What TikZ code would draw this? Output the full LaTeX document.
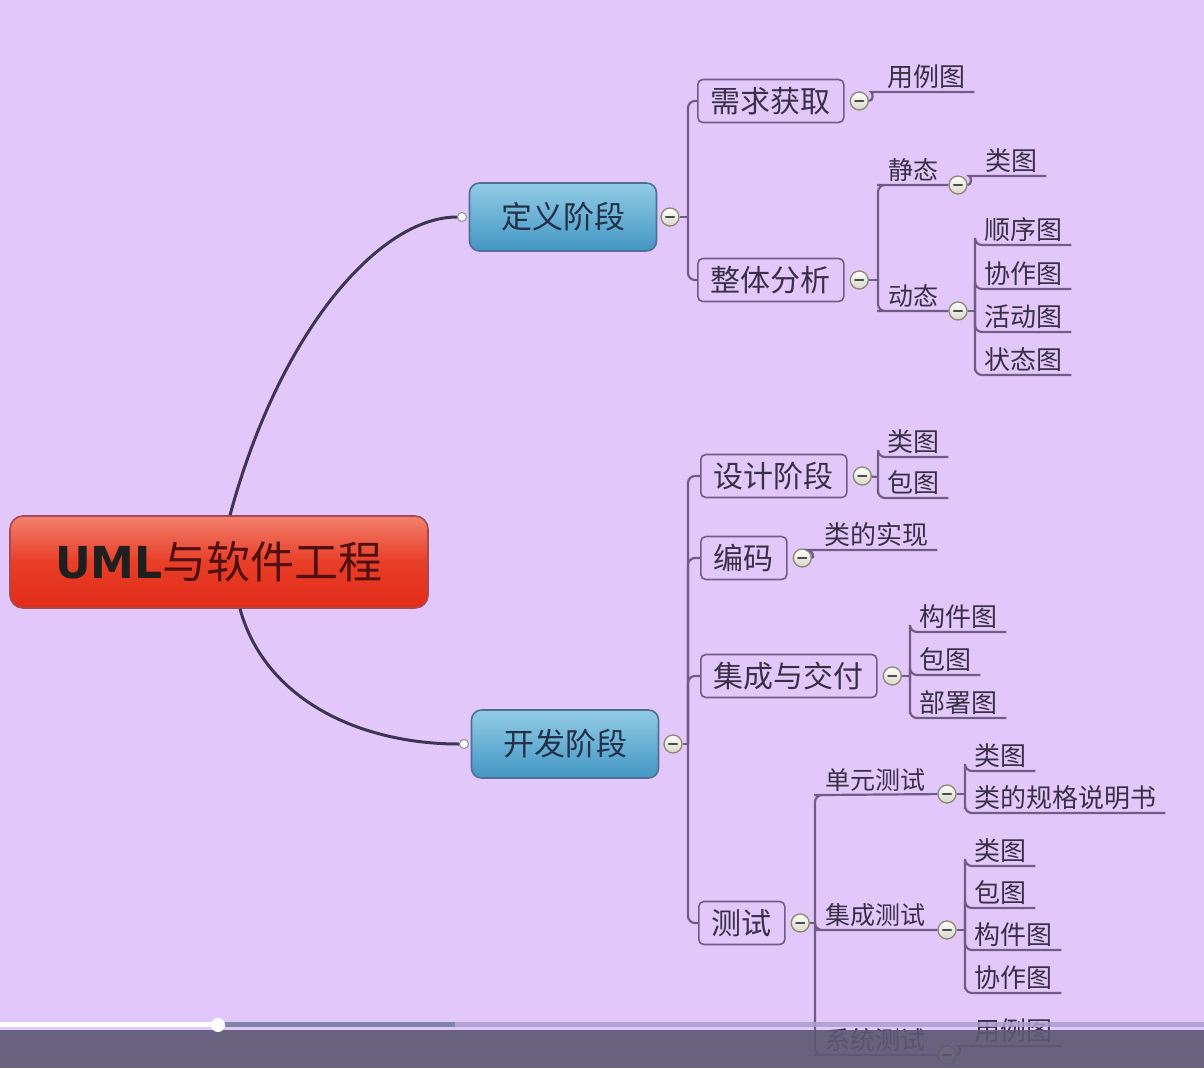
\documentclass[tikz,border=0pt]{standalone}
\usepackage{fontspec}
\setmainfont{Noto Sans CJK SC}
\newfontfamily\umlfont{DejaVu Sans}
\usetikzlibrary{positioning}
\definecolor{bg}{RGB}{226,200,250}
\definecolor{lnk}{RGB}{112,92,134}
\definecolor{txt}{RGB}{58,48,70}
\definecolor{trunkc}{RGB}{62,52,84}
\definecolor{phaseline}{RGB}{84,108,150}
\definecolor{phasetxt}{RGB}{34,48,72}
\definecolor{rootline}{RGB}{168,72,84}
\definecolor{roottxt}{RGB}{80,16,16}
\definecolor{minusline}{RGB}{140,136,110}
\definecolor{barc}{RGB}{92,88,114}
\definecolor{playc}{RGB}{122,136,168}
\definecolor{restc}{RGB}{172,158,208}

\begin{document}
\begin{tikzpicture}[x=1pt, y=-1pt,
    link/.style={draw=lnk, line width=2.2, rounded corners=7},
    trunk/.style={draw=trunkc, line width=3},
    root/.style={draw=rootline, line width=1.6, rounded corners=13, top color={rgb,255:red,242;green,128;blue,108}, bottom color={rgb,255:red,226;green,44;blue,24}, middle color={rgb,255:red,232;green,62;blue,40}, minimum width=418, minimum height=92, text=roottxt, font=\fontsize{44}{48}\selectfont},
    phase/.style={draw=phaseline, line width=1.6, rounded corners=10, top color={rgb,255:red,146;green,204;blue,228}, bottom color={rgb,255:red,66;green,150;blue,196}, minimum width=187, minimum height=68, text=phasetxt, font=\fontsize{31}{34}\selectfont},
    stage/.style={draw=lnk, line width=1.6, rounded corners=5, fill=bg, text=txt, inner xsep=13, minimum height=43, anchor=west, font=\fontsize{30}{34}\selectfont},
    sub/.style={anchor=south west, inner xsep=4, inner ysep=3, text=txt, font=\fontsize{25}{28}\selectfont},
    leaf/.style={anchor=south west, inner xsep=9, inner ysep=3, text=txt, font=\fontsize{26}{28}\selectfont},
    minus/.style={circle, draw=minusline, line width=1.3, minimum size=18, inner sep=0, top color=white, bottom color={rgb,255:red,214;green,214;blue,200},
        path picture={\draw[line width=2.4, line cap=round, draw=black!70] ([xshift=-4]path picture bounding box.center) -- ([xshift=4]path picture bounding box.center);}},
    dot/.style={circle, draw=black!45, line width=1, fill=white, minimum size=9, inner sep=0}]

    \useasboundingbox (0,0) rectangle (1204,1068);
    \fill[bg] (0,0) rectangle (1204,1068);

    \node[root] (uml) at (219,562) {{\umlfont\bfseries\color{black!88}UML}与软件工程};

    \node[phase] (dy) at (563,217) {定义阶段};
    \node[phase] (kf) at (565,744) {开发阶段};
    \node[dot] (dyIn) at (462,217) {};
    \node[dot] (kfIn) at (464,744) {};
    \node[minus] (dyM) at (670,217) {};
    \node[minus] (kfM) at (673,744) {};
    \draw[trunk] ([xshift=11]uml.north) .. controls (280,330) and (380,217) .. (dyIn);
    \draw[trunk] ([xshift=21]uml.south) .. controls (265,700) and (360,744) .. (kfIn);

    \coordinate (jA) at (688,217);
    \coordinate (jK) at (688,744);
    \draw[link] (dyM) -- (jA);
    \draw[link] (kfM) -- (jK);

    \node[stage] (xq) at (697,101) {需求获取};
    \node[stage] (zt) at (697,280) {整体分析};
    \node[minus, right=5pt of xq] (xqM) {};
    \node[minus, right=5pt of zt] (ztM) {};
    \draw[link] (jA) |- (xq.west);
    \draw[link] (jA) |- (zt.west);

    \node[leaf] (ylA) at (878,92) {用例图};
    \draw[link] (xqM) to[out=0, in=180] (ylA.south west) -- (ylA.south east);

    \coordinate (jB) at (878,280);
    \draw[link] (ztM) -- (jB);
    \node[sub] (jt) at (884,185) {静态};
    \node[sub] (dt) at (884,311) {动态};
    \node[minus] (jtM) at (958,185) {};
    \node[minus] (dtM) at (958,311) {};
    \draw[link] (jB) |- (jt.south west) -- (jtM);
    \draw[link] (jB) |- (dt.south west) -- (dtM);

    \node[leaf] (lt1) at (976,176) {类图};
    \draw[link] (jtM) to[out=0, in=180] (lt1.south west) -- (lt1.south east);

    \coordinate (jC) at (975,311);
    \draw[link] (dtM) -- (jC);
    \node[leaf] (sx) at (975,245) {顺序图};
    \node[leaf] (xz) at (975,289) {协作图};
    \node[leaf] (hd) at (975,332) {活动图};
    \node[leaf] (zz) at (975,375) {状态图};
    \foreach \n in {sx, xz, hd, zz}
        \draw[link] (jC) |- (\n.south west) -- (\n.south east);

    \node[stage] (sj) at (700,476) {设计阶段};
    \node[stage] (bm) at (700,558) {编码};
    \node[stage] (jc) at (700,676) {集成与交付};
    \node[stage] (cs) at (698,923) {测试};
    \node[minus, right=5pt of sj] (sjM) {};
    \node[minus, right=5pt of bm] (bmM) {};
    \node[minus, right=5pt of jc] (jcM) {};
    \node[minus, right=5pt of cs] (csM) {};
    \foreach \n in {sj, bm, jc, cs}
        \draw[link] (jK) |- (\n.west);

    \coordinate (jD) at (878,477);
    \draw[link] (sjM) -- (jD);
    \node[leaf] (sjL) at (878,457) {类图};
    \node[leaf] (sjB) at (878,498) {包图};
    \foreach \n in {sjL, sjB}
        \draw[link] (jD) |- (\n.south west) -- (\n.south east);

    \node[leaf] (bmS) at (815,550) {类的实现};
    \draw[link] (bmM) to[out=0, in=180] (bmS.south west) -- (bmS.south east);

    \coordinate (jE) at (910,676);
    \draw[link] (jcM) -- (jE);
    \node[leaf] (jcG) at (910,632) {构件图};
    \node[leaf] (jcB) at (910,675) {包图};
    \node[leaf] (jcD) at (910,718) {部署图};
    \foreach \n in {jcG, jcB, jcD}
        \draw[link] (jE) |- (\n.south west) -- (\n.south east);

    \coordinate (jF) at (815,923);
    \draw[link] (csM) -- (jF);
    \node[sub] (dycs) at (821,795) {单元测试};
    \node[sub] (jccs) at (821,930) {集成测试};
    \node[sub] (xtcs) at (821,1055) {系统测试};
    \node[minus] (dycsM) at (947,794) {};
    \node[minus] (jccsM) at (947,930) {};
    \node[minus] (xtcsM) at (947,1055) {};
    \draw[link] (jF) |- (dycs.south west) -- (dycsM);
    \draw[link] (jF) |- (jccs.south west) -- (jccsM);
    \draw[link] (jF) |- (xtcs.south west) -- (xtcsM);

    \coordinate (jG) at (965,794);
    \draw[link] (dycsM) -- (jG);
    \node[leaf] (dyL) at (965,771) {类图};
    \node[leaf] (dyG) at (965,813) {类的规格说明书};
    \foreach \n in {dyL, dyG}
        \draw[link] (jG) |- (\n.south west) -- (\n.south east);

    \coordinate (jH) at (965,930);
    \draw[link] (jccsM) -- (jH);
    \node[leaf] (jcL) at (965,866) {类图};
    \node[leaf] (jcBt) at (965,908) {包图};
    \node[leaf] (jcGt) at (965,950) {构件图};
    \node[leaf] (jcX) at (965,993) {协作图};
    \foreach \n in {jcL, jcBt, jcGt, jcX}
        \draw[link] (jH) |- (\n.south west) -- (\n.south east);

    \node[leaf] (xtY) at (965,1046) {用例图};
    \draw[link] (xtcsM) to[out=0, in=180] (xtY.south west) -- (xtY.south east);

    \fill[barc, opacity=0.9] (0,1030) rectangle (1204,1068);
    \fill[restc, opacity=0.85] (455,1022) rectangle (1204,1027);
    \fill[playc] (218,1022) rectangle (455,1027);
    \fill[white] (0,1022) rectangle (218,1027);
    \fill[white] (218,1025) circle (7);
\end{tikzpicture}
\end{document}
